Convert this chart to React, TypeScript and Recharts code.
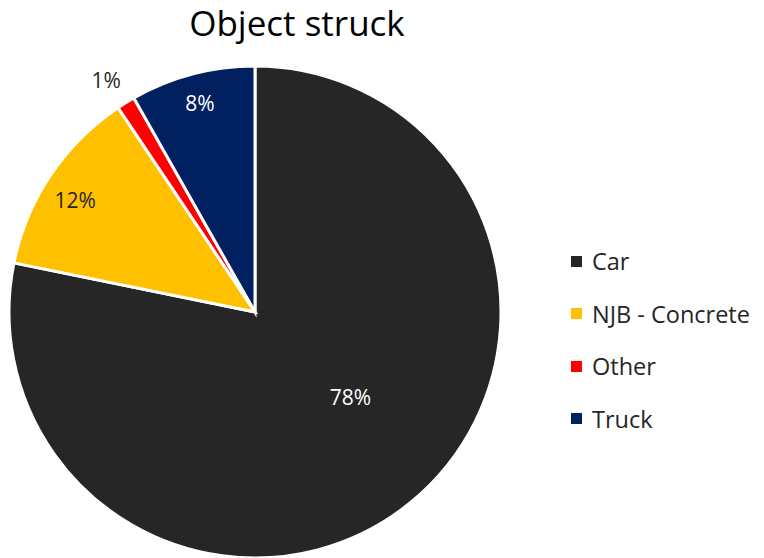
import { PieChart, Pie, Cell, Legend } from 'recharts';

const categories = ['Car', 'NJB - Concrete', 'Other', 'Truck'];
const shares = [78.2, 12.4, 1.2, 8.2];
const labels = ['78%', '12%', '1%', '8%'];
const colors = ['#262626', '#FFC000', '#FF0000', '#002060'];

const data = categories.map((name, i) => ({ name, value: shares[i], label: labels[i] }));

const FONT = '"Open Sans", sans-serif';
const RAD = Math.PI / 180;

const renderLabel = (props: any) => {
  const { cx, cy, midAngle, outerRadius, index } = props;
  // car label sits near the middle, small "Other" slice is labelled outside
  const k = index === 0 ? 0.52 : index === 2 ? 1.12 : index === 3 ? 0.88 : 0.86;
  const ang = index === 0 ? midAngle + 9 : index === 2 ? midAngle + 1 : index === 1 ? midAngle + 2 : midAngle;
  const x = cx + outerRadius * k * Math.cos(-ang * RAD);
  const y = cy + outerRadius * k * Math.sin(-ang * RAD);
  const fill = index === 0 || index === 3 ? '#ffffff' : '#262626';
  return (
    <text x={x} y={y} fill={fill} textAnchor="middle" dominantBaseline="central"
      fontFamily={FONT} fontSize={21}>
      {data[index].label}
    </text>
  );
};

const renderLegend = (props: any) => {
  const { payload } = props;
  return (
    <div style={{ fontFamily: FONT, fontSize: 23.5, color: '#262626' }}>
      {payload.map((entry: any) => (
        <div key={entry.value} style={{ display: 'flex', alignItems: 'center', height: 52.5 }}>
          <span style={{ display: 'inline-block', width: 11, height: 11, background: entry.color, marginRight: 10 }} />
          <span>{entry.value}</span>
        </div>
      ))}
    </div>
  );
};

export default function App() {
  return (
    <div style={{ position: 'absolute', left: 0, top: 0, width: 764, height: 558, background: '#fff' }}>
      <div style={{ position: 'absolute', left: 0, top: -1, width: 594, textAlign: 'center', fontFamily: FONT, fontSize: 35, color: '#000' }}>
        Object struck
      </div>
      <PieChart width={764} height={558} margin={{ top: 0, right: 0, bottom: 0, left: 0 }}>
        <Pie
          data={data}
          dataKey="value"
          nameKey="name"
          cx={255}
          cy={312}
          outerRadius={246}
          startAngle={90}
          endAngle={-270}
          stroke="#ffffff"
          strokeWidth={3}
          label={renderLabel}
          labelLine={false}
          isAnimationActive={false}
        >
          {data.map((d, i) => (
            <Cell key={d.name} fill={colors[i]} />
          ))}
        </Pie>
        <Legend
          layout="vertical"
          align="right"
          verticalAlign="top"
          content={renderLegend}
          wrapperStyle={{ left: 571, top: 235, width: 193 }}
        />
      </PieChart>
    </div>
  );
}
